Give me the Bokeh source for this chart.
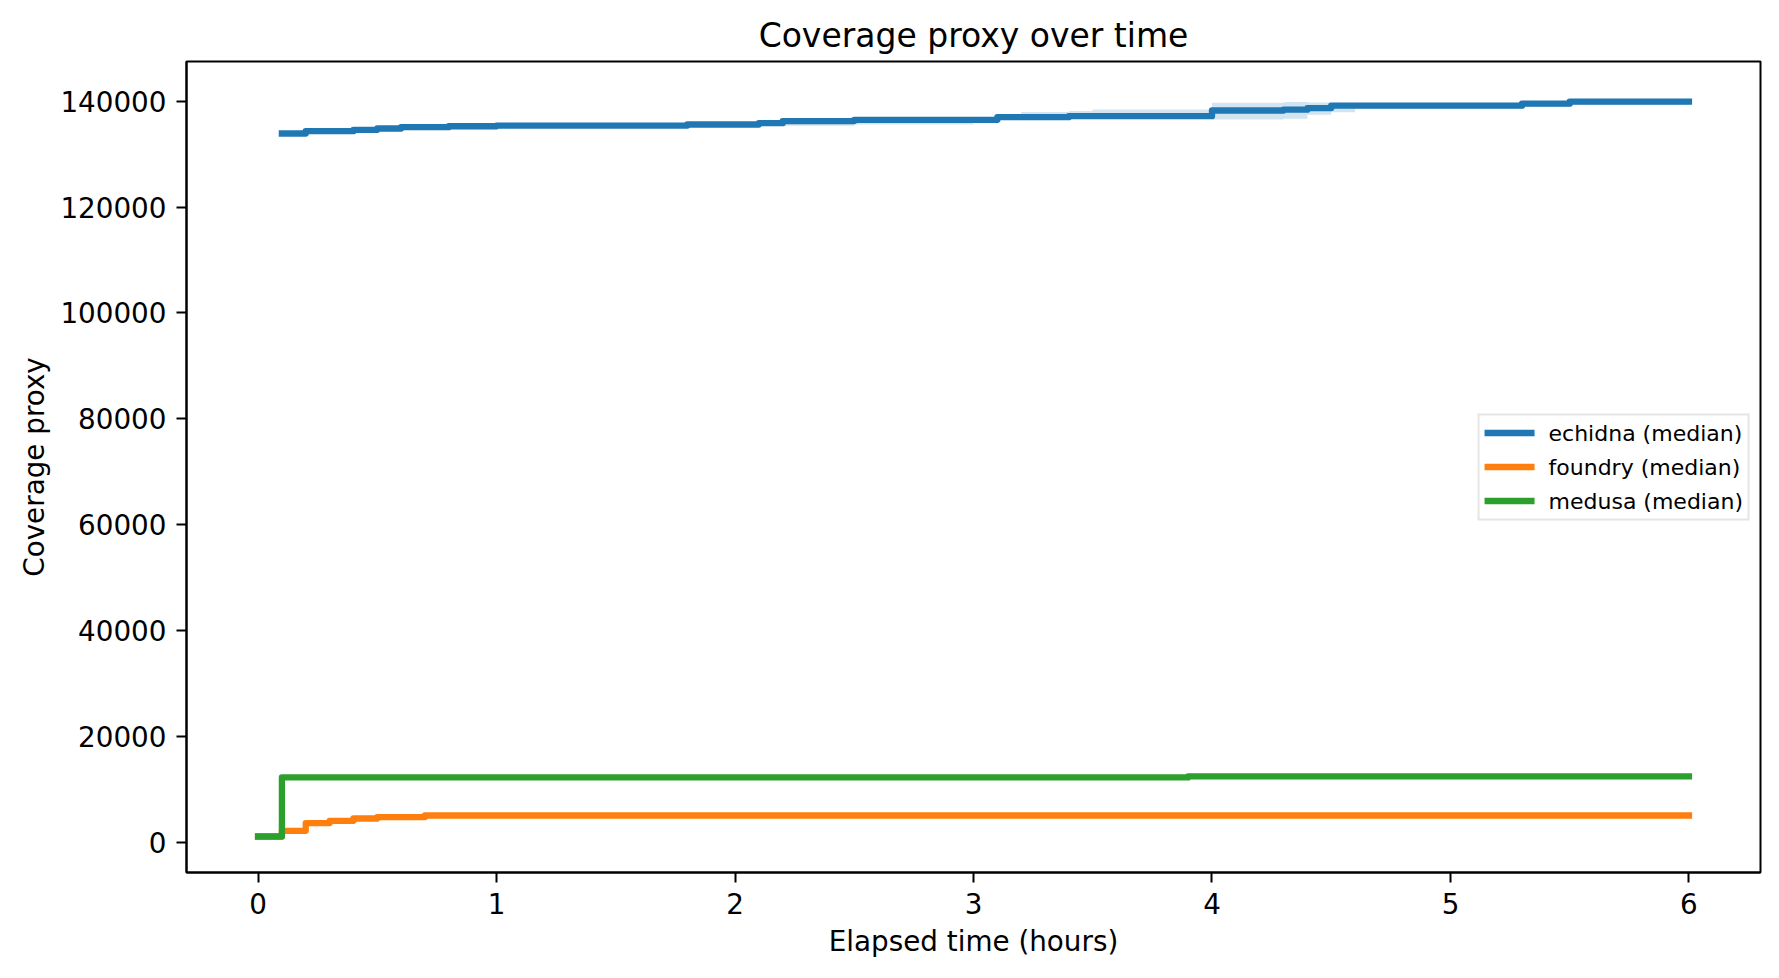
from bokeh.plotting import figure
from bokeh.models import Legend, LegendItem, Range1d, BasicTickFormatter, FixedTicker
from bokeh.embed import file_html
from bokeh.resources import INLINE

# ---- data ----
echidna_t = [0.1, 0.2, 0.4, 0.5, 0.6, 0.8, 1.0, 1.8, 2.1, 2.2, 2.5, 3.0, 3.1, 3.2, 3.4, 3.5,
             4.0, 4.3, 4.4, 4.5, 4.6, 5.3, 5.5, 6.0]
echidna_med = [133900, 134330, 134590, 134840, 135090, 135270, 135400, 135600, 135840, 136250,
               136480, 136480, 136980, 136980, 137170, 137170, 138240, 138400, 138700, 139150,
               139150, 139530, 139920, 139920]
echidna_lo = [133900, 134330, 134590, 134840, 135090, 135270, 135400, 135600, 135840, 135350,
              135600, 136300, 136900, 136900, 137100, 137100, 136550, 136700, 137450, 137900,
              138550, 138900, 139300, 139300]
echidna_hi = [133900, 134330, 134590, 134840, 135090, 135270, 135400, 135600, 135840, 136300,
              136550, 136550, 137100, 137980, 138170, 138430, 139700, 139850, 139770, 139300,
              139300, 139600, 139950, 139950]

foundry_t = [0.0, 0.1, 0.2, 0.3, 0.4, 0.5, 0.7, 6.0]
foundry_med = [1130, 2210, 3660, 4100, 4530, 4800, 5100, 5100]

medusa_t = [0.0, 0.1, 3.9, 6.0]
medusa_med = [1130, 12280, 12480, 12480]

x_ticks = [0, 1, 2, 3, 4, 5, 6]
y_ticks = [0, 20000, 40000, 60000, 80000, 100000, 120000, 140000]

C0, C1, C2 = "#1f77b4", "#ff7f0e", "#2ca02c"
FONT = "DejaVu Sans"

p = figure(width=1779, height=978, output_backend="svg", toolbar_location=None,
           x_range=Range1d(-0.3, 6.3), y_range=Range1d(-5668, 147497),
           min_border_left=186, min_border_right=19, min_border_top=61, min_border_bottom=106,
           title="Coverage proxy over time")

p.title.text_font = FONT
p.title.text_font_size = "33px"
p.title.text_font_style = "normal"
p.title.text_color = "black"
p.title.align = "center"
p.title.standoff = 13

p.grid.visible = False
p.outline_line_color = "black"
p.outline_line_width = 2
p.background_fill_color = "white"
p.border_fill_color = "white"

p.xaxis.ticker = FixedTicker(ticks=x_ticks)
p.yaxis.ticker = FixedTicker(ticks=y_ticks)
p.yaxis.formatter = BasicTickFormatter(use_scientific=False)
for ax in (p.xaxis[0], p.yaxis[0]):
    ax.axis_line_color = "black"
    ax.axis_line_width = 2
    ax.major_tick_line_color = "black"
    ax.major_tick_line_width = 2
    ax.major_tick_out = 10
    ax.major_tick_in = 0
    ax.minor_tick_line_color = None
    ax.major_label_text_font = FONT
    ax.major_label_text_font_size = "27.8px"
    ax.major_label_text_color = "black"
    ax.major_label_standoff = 10
    ax.axis_label_text_font = FONT
    ax.axis_label_text_font_size = "27.8px"
    ax.axis_label_text_font_style = "normal"
    ax.axis_label_text_color = "black"

p.xaxis.axis_label = "Elapsed time (hours)"
p.yaxis.axis_label = "Coverage proxy"
p.xaxis.axis_label_standoff = 8
p.yaxis.axis_label_standoff = 6

band = p.varea_step(x=echidna_t, y1=echidna_lo, y2=echidna_hi, step_mode="after",
                    fill_color=C0, fill_alpha=0.2)

LW = 6.3
r_e = p.step(echidna_t, echidna_med, mode="after", line_color=C0, line_width=LW,
             line_cap="square", line_join="round")
r_f = p.step(foundry_t, foundry_med, mode="after", line_color=C1, line_width=LW,
             line_cap="square", line_join="round")
r_m = p.step(medusa_t, medusa_med, mode="after", line_color=C2, line_width=LW,
             line_cap="square", line_join="round")

legend = Legend(items=[LegendItem(label="echidna (median)", renderers=[r_e]),
                       LegendItem(label="foundry (median)", renderers=[r_f]),
                       LegendItem(label="medusa (median)", renderers=[r_m])],
                location="center_right")
legend.label_text_font = FONT
legend.label_text_font_size = "22px"
legend.label_text_color = "black"
legend.glyph_width = 50
legend.glyph_height = 22
legend.label_height = 22
legend.spacing = 9
legend.padding = 5
legend.margin = 10
legend.label_standoff = 14
legend.border_line_color = "#cccccc"
legend.border_line_width = 2
legend.background_fill_alpha = 0.8
p.add_layout(legend)

open("out.html", "w").write(file_html(p, INLINE))
